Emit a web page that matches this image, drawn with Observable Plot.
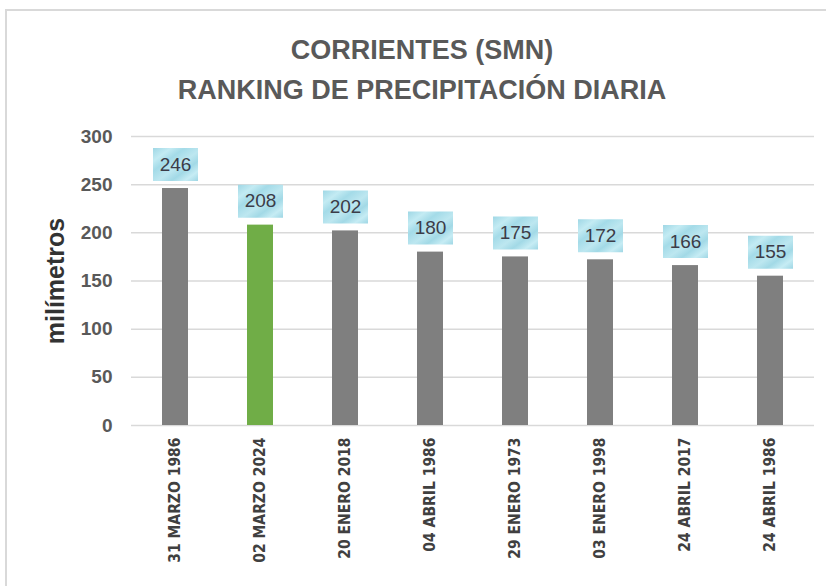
<!DOCTYPE html>
<html>
<head>
<meta charset="utf-8">
<script src="https://cdn.jsdelivr.net/npm/d3@7"></script>
<script src="https://cdn.jsdelivr.net/npm/@observablehq/plot@0.6"></script>
<style>
  html, body { margin: 0; padding: 0; background: #fff; overflow: hidden; }
  #wrap { position: relative; width: 826px; height: 586px; }
  #border { position: absolute; left: 5px; top: 9px; width: 900px; height: 700px; border-left: 2px solid #d9d9d9; border-top: 2px solid #d9d9d9; }
  #chart { position: absolute; left: 0; top: 0; }
  #chart svg { font-family: "Liberation Sans", Arial, sans-serif; }
</style>
</head>
<body>
<div id="wrap"><div id="border"></div><div id="chart"></div></div>
<script>
const fechas = ["31 MARZO 1986", "02 MARZO 2024", "20 ENERO 2018", "04 ABRIL 1986", "29 ENERO 1973", "03 ENERO 1998", "24 ABRIL 2017", "24 ABRIL 1986"];
const milimetros = [246, 208, 202, 180, 175, 172, 166, 155];
const destacado = "02 MARZO 2024";
const yTicks = [0, 50, 100, 150, 200, 250, 300];
const titulo1 = "CORRIENTES (SMN)";
const titulo2 = "RANKING DE PRECIPITACIÓN DIARIA";
const ejeY = "milímetros";

const data = fechas.map((f, i) => ({fecha: f, mm: milimetros[i]}));

const boxSymbol = {draw(ctx) { ctx.moveTo(-22.5, -16.5); ctx.lineTo(22.5, -16.5); ctx.lineTo(22.5, 16.5); ctx.lineTo(-22.5, 16.5); ctx.closePath(); }};

const chart = Plot.plot({
  width: 826,
  height: 586,
  marginLeft: 131,
  marginRight: 12,
  marginTop: 136,
  marginBottom: 161,
  style: {fontFamily: "'Liberation Sans', Arial, sans-serif", background: "transparent"},
  x: {domain: fechas, paddingInner: 0.69, paddingOuter: 0.345, label: null},
  y: {domain: [0, 300], label: null},
  marks: [
    Plot.gridY(yTicks, {stroke: "#d9d9d9", strokeOpacity: 1, strokeWidth: 1.5}),
    Plot.barY(data, {x: "fecha", y: "mm", fill: d => d.fecha === destacado ? "#70ad47" : "#7f7f7f"}),
    Plot.dot(data, {x: "fecha", y: "mm", dy: -24, symbol: boxSymbol, fill: "url(#tex)", stroke: "none"}),
    Plot.text(data, {x: "fecha", y: "mm", dy: -24, text: d => String(d.mm), fill: "#3c3c48", fontSize: 19}),
    Plot.axisY({ticks: yTicks, tickSize: 0, tickPadding: 19, fontSize: 19, fontWeight: "bold", fill: "#595959", label: null}),
    Plot.axisX({tickSize: 0, tickPadding: 12, tickRotate: -90, fontSize: 15.5, fontWeight: "bold", fill: "#404040", label: null, fontFamily: "'DejaVu Sans Condensed', 'DejaVu Sans', sans-serif"}),
    Plot.text([titulo1], {text: d => d, frameAnchor: "top", lineAnchor: "middle", dx: -51, dy: -86, fontSize: 27, fontWeight: "bold", fill: "#595959"}),
    Plot.text([titulo2], {text: d => d, frameAnchor: "top", lineAnchor: "middle", dx: -51, dy: -46, fontSize: 27, fontWeight: "bold", fill: "#595959"}),
    Plot.text([ejeY], {text: d => d, frameAnchor: "left", textAnchor: "middle", lineAnchor: "middle", dx: -76, rotate: -90, fontSize: 25, fontWeight: "bold", fill: "#333333"})
  ]
});

const svg = d3.select(chart);
const defs = svg.insert("defs", ":first-child");
const g = defs.append("linearGradient").attr("id", "tex").attr("x1", "0").attr("y1", "0").attr("x2", "1").attr("y2", "1");
[["0%", "#9fd7e5"], ["20%", "#c3ebf3"], ["35%", "#a4dbe8"], ["55%", "#bde7f0"], ["70%", "#a2d9e6"], ["85%", "#c6ecf4"], ["100%", "#9ed6e4"]]
  .forEach(([o, c]) => g.append("stop").attr("offset", o).attr("stop-color", c));
svg.selectAll("[aria-label='x-axis tick label'] text").style("font-stretch", "condensed");

document.getElementById("chart").appendChild(chart);
</script>
</body>
</html>
